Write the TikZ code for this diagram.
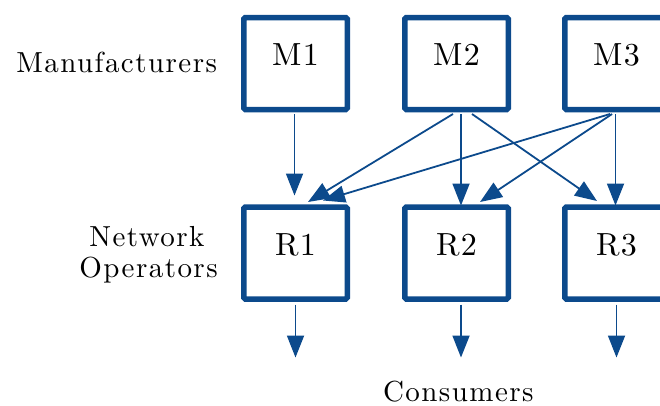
\documentclass[tikz,border=0pt]{standalone}
\usepackage{fontspec}
\usetikzlibrary{arrows.meta,calc}

\definecolor{flowblue}{RGB}{12,74,140}

% one fixed design size, loosely tracked
\newfontfamily\boxfont{lmroman10-regular.otf}[LetterSpace=4]
\newfontfamily\capfont{lmroman10-regular.otf}[LetterSpace=5]

\tikzset{
  unit/.style={draw=flowblue, line width=5.5pt, rounded corners=1.5pt,
    minimum width=103.5pt, minimum height=92pt, inner sep=0pt, outer sep=0pt,
    text height=0.683em, text depth=0.2em,
    font=\boxfont\fontsize{32}{34}\selectfont},
  tier/.style={inner sep=0pt, outer sep=0pt,
    font=\capfont\fontsize{29}{31}\selectfont},
  flow/.style={draw=flowblue, line width=1.8pt,
    -{Triangle[length=22pt,width=17pt]}}
}

\begin{document}
\begin{tikzpicture}[x=1pt,y=-1pt]
  \useasboundingbox (0,0) rectangle (660,405);

  % suppliers
  \node[unit] (M1) at (295.5,63.5) {M1};
  \node[unit] (M2) at (456.5,63.5) {M2};
  \node[unit] (M3) at (616.5,63.5) {M3};

  % operators
  \node[unit] (R1) at (295.5,253) {R1};
  \node[unit] (R2) at (456.5,253) {R2};
  \node[unit] (R3) at (616.5,253) {R3};

  % tier captions
  \node[tier, anchor=base east] (manu) at (217,72.7) {Manufacturers};
  \node[tier, anchor=base] (netw) at (147,246) {Network};
  \node[tier, anchor=base] (oper) at (148.5,277) {Operators};
  \node[tier, anchor=base] (cons) at (458.3,401.5) {Consumers};

  % supply links
  \draw[flow] ($(M1.south)+(-1,4.5)$)   -- ($(R1.north)+(-1,-11.5)$);
  \draw[flow] ($(M2.south)+(-3.5,4.5)$) -- ($(R1.north)+(12.5,-5)$);
  \draw[flow] ($(M3.south)+(-6.5,4.5)$) -- ($(R1.north)+(27.5,-6.5)$);
  \draw[flow] ($(M2.south)+(4.5,4.5)$)  -- ($(R2.north)+(4.5,-1.5)$);
  \draw[flow] ($(M3.south)+(-4.5,4.5)$) -- ($(R2.north)+(23.5,-5)$);
  \draw[flow] ($(M2.south)+(15.5,4.5)$) -- ($(R3.north)+(-19.5,-6)$);
  \draw[flow] ($(M3.south)+(-1,4.5)$)   -- ($(R3.north)+(-1,-1.5)$);

  % delivery to consumers
  \coordinate (d1) at ($(R1.south)+(0,58.5)$);
  \coordinate (d2) at ($(R2.south)+(4.5,58.5)$);
  \coordinate (d3) at ($(R3.south)+(0,58.5)$);
  \draw[flow] ($(R1.south)+(0,5.5)$)   -- (d1);
  \draw[flow] ($(R2.south)+(4.5,5.5)$) -- (d2);
  \draw[flow] ($(R3.south)+(0,5.5)$)   -- (d3);
\end{tikzpicture}
\end{document}
